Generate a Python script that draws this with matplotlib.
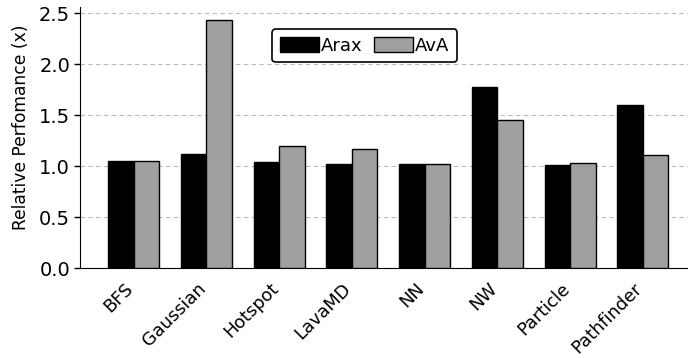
import matplotlib
matplotlib.use("Agg")
import matplotlib.pyplot as plt
import matplotlib.transforms as mtransforms
import numpy as np

categories = ["BFS", "Gaussian", "Hotspot", "LavaMD", "NN", "NW", "Particle", "Pathfinder"]
arax = [1.055, 1.124, 1.045, 1.02, 1.022, 1.775, 1.016, 1.604]
ava = [1.049, 2.437, 1.199, 1.167, 1.02, 1.451, 1.032, 1.111]
yticks = [0.0, 0.5, 1.0, 1.5, 2.0, 2.5]

fig = plt.figure(figsize=(6.88, 3.58), dpi=100)
ax = fig.add_axes([0.117, 0.2506, 0.883, 0.7305])

x = np.arange(len(categories))
w = 0.35
ax.bar(x - w / 2, arax, w, color="black", edgecolor="black", linewidth=1, label="Arax", zorder=3)
ax.bar(x + w / 2, ava, w, color="#a0a0a0", edgecolor="black", linewidth=1, label="AvA", zorder=3)

ax.set_xlim(-0.73, 7.62)
ax.set_ylim(0, 2.565)
ax.set_yticks(yticks)
ax.set_yticklabels([f"{v:.1f}" for v in yticks], fontsize=14)
ax.set_xticks(x)
ax.set_xticklabels(categories, rotation=45, ha="right", fontsize=12.8)
ax.tick_params(axis="x", length=0, pad=8)
ax.tick_params(axis="y", length=4, width=1)
ax.set_ylabel("Relative Perfomance (x)", fontsize=12.3)
ax.yaxis.set_label_coords(-0.083, 0.538)
ax.yaxis.grid(True, linestyle=(0, (4, 3)), color="#bbbbbb", linewidth=0.8, zorder=0)
ax.spines["top"].set_visible(False)
ax.spines["right"].set_visible(False)

offset = mtransforms.ScaledTranslation(3 / 100, 0, fig.dpi_scale_trans)
for lbl in ax.get_xticklabels():
    lbl.set_transform(lbl.get_transform() + offset)

leg = ax.legend(loc="upper center", bbox_to_anchor=(0.468, 0.915), ncol=2, fontsize=13,
                frameon=True, fancybox=True, edgecolor="black", framealpha=1,
                handlelength=2.17, handleheight=0.85, handletextpad=0.1, columnspacing=0.65,
                borderpad=0.42, borderaxespad=0)
leg.get_frame().set_linewidth(1.2)

fig.savefig("out.png", dpi=100)
